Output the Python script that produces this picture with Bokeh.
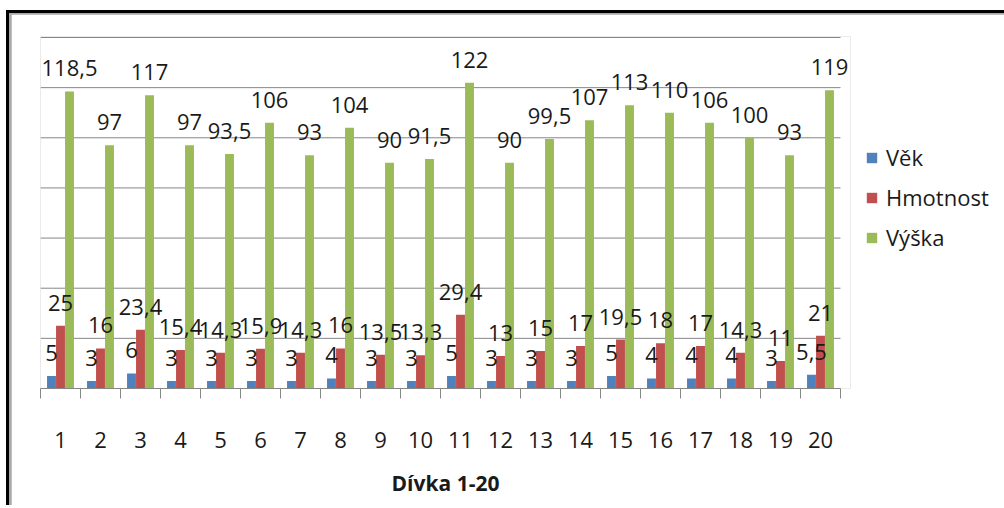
from bokeh.plotting import figure
from bokeh.models import (ColumnDataSource, Range1d, FixedTicker, Legend, LegendItem)
from bokeh.core.properties import value
from bokeh.transform import dodge
from bokeh.embed import file_html
from bokeh.resources import INLINE

categories = ["1", "2", "3", "4", "5", "6", "7", "8", "9", "10",
              "11", "12", "13", "14", "15", "16", "17", "18", "19", "20"]
vek = [5, 3, 6, 3, 3, 3, 3, 4, 3, 3, 5, 3, 3, 3, 5, 4, 4, 4, 3, 5.5]
hmotnost = [25, 16, 23.4, 15.4, 14.3, 15.9, 14.3, 16, 13.5, 13.3,
            29.4, 13, 15, 17, 19.5, 18, 17, 14.3, 11, 21]
vyska = [118.5, 97, 117, 97, 93.5, 106, 93, 104, 90, 91.5,
         122, 90, 99.5, 107, 113, 110, 106, 100, 93, 119]
series_names = ["Věk", "Hmotnost", "Výška"]
colors = ["#4F81BD", "#C0504D", "#9BBB59"]
x_title = "Dívka 1-20"
y_ticks = [20, 40, 60, 80, 100, 120, 140]


def fmt(v):
    s = ("%g" % v)
    return s.replace(".", ",")


n = len(categories)
xs = list(range(1, n + 1))
src = ColumnDataSource(dict(
    x=xs,
    vek=vek, hmotnost=hmotnost, vyska=vyska,
    vek_l=[fmt(v) for v in vek],
    hmotnost_l=[fmt(v) for v in hmotnost],
    vyska_l=[fmt(v) for v in vyska],
))

FONT = "Open Sans"

# x range extends a little past the last category so that the last data label is not clipped
p = figure(frame_width=810, frame_height=352, output_backend="svg", toolbar_location=None,
           x_range=Range1d(0.5, n + 0.75), y_range=Range1d(0, 140.4),
           min_border_left=29, min_border_right=149, min_border_top=22,
           min_border_bottom=117, background_fill_color="white",
           border_fill_color="white", outline_line_color=None)

p.styles = {"margin-left": "6px", "margin-top": "10px",
            "border-left": "3px solid #000000", "border-top": "3px solid #000000",
            "padding-left": "2px", "padding-top": "1px",
            "background-color": "#a9a9a9"}

# horizontal gridlines, limited to the category span
grid_src = ColumnDataSource(dict(y=y_ticks, x0=[0.5] * len(y_ticks), x1=[n + 0.5] * len(y_ticks)))
p.segment(x0="x0", x1="x1", y0="y", y1="y", source=grid_src,
          line_color="#868686", line_width=1)

bw = 0.225
offsets = [-bw, 0.0, bw]
fields = ["vek", "hmotnost", "vyska"]
renderers = []
for f, off, c in zip(fields, offsets, colors):
    r = p.vbar(x=dodge("x", off), top=f, width=bw * 0.99, bottom=0,
               source=src, fill_color=c, line_color=None)
    renderers.append(r)
for f, off in zip(fields, offsets):
    p.text(x=dodge("x", off), y=f, text=f + "_l", source=src,
           text_align="center", text_baseline="alphabetic", y_offset=-23,
           text_font=value(FONT), text_font_size="22px", text_color="#1a1a1a")

# axes
p.yaxis.visible = False
p.grid.visible = False

xa = p.xaxis[0]
xa.bounds = (0.5, n + 0.5)
xa.ticker = FixedTicker(ticks=xs, minor_ticks=[i + 0.5 for i in range(0, n + 1)])
xa.major_label_overrides = {i: lab for i, lab in zip(xs, categories)}
xa.major_tick_line_color = None
xa.major_tick_out = 10
xa.major_tick_in = 0
xa.minor_tick_line_color = "#868686"
xa.minor_tick_out = 10
xa.minor_tick_in = 0
xa.axis_line_color = "#868686"
xa.major_label_standoff = 33
xa.major_label_text_font = FONT
xa.major_label_text_font_size = "22px"
xa.major_label_text_color = "#1a1a1a"
xa.axis_label = x_title
xa.axis_label_text_font = FONT
xa.axis_label_text_font_style = "bold"
xa.axis_label_text_font_size = "21px"
xa.axis_label_text_color = "#1a1a1a"
xa.axis_label_standoff = 18

legend = Legend(items=[LegendItem(label=nm, renderers=[r]) for nm, r in zip(series_names, renderers)],
                location=(15, 136), orientation="vertical",
                border_line_color=None, background_fill_alpha=0,
                padding=0, margin=0, spacing=10,
                glyph_width=13, glyph_height=13, label_height=30,
                label_standoff=8, label_text_font=FONT,
                label_text_font_size="22px", label_text_color="#1a1a1a")
p.add_layout(legend, "right")

open("out.html", "w").write(file_html(p, INLINE))
